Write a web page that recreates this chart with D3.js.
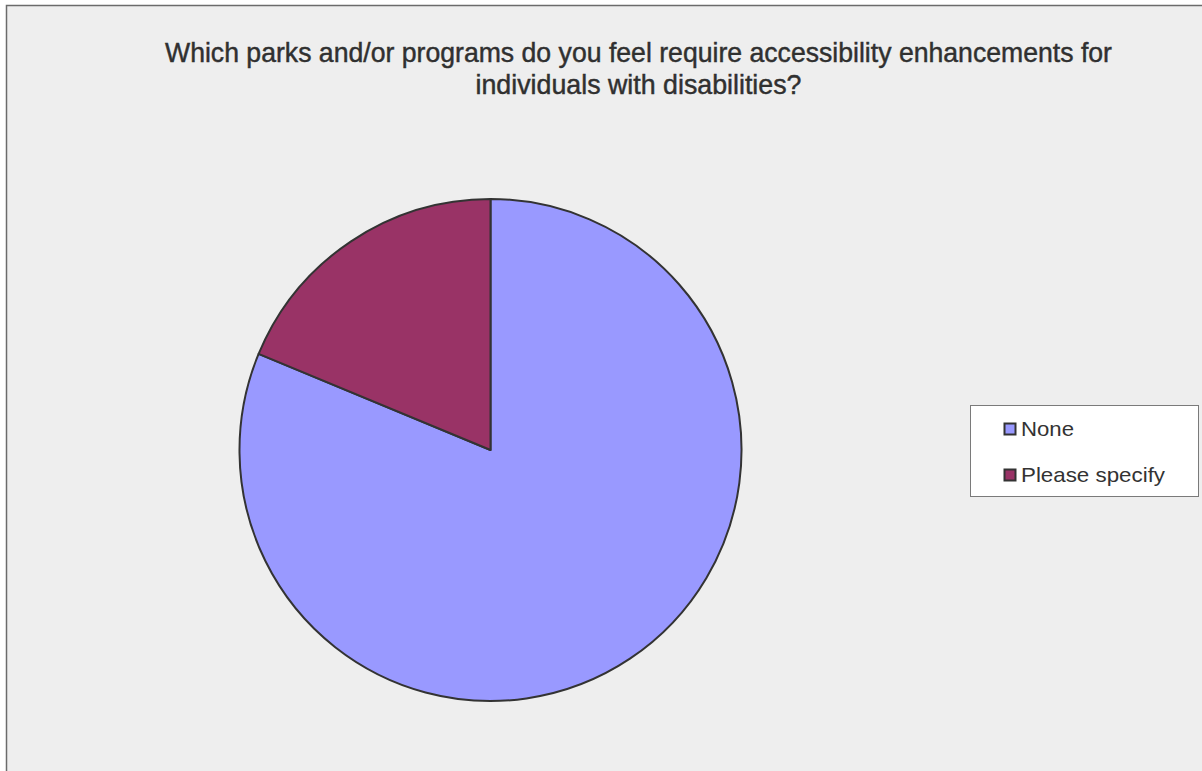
<!DOCTYPE html>
<html>
<head>
<meta charset="utf-8">
<script src="https://cdn.jsdelivr.net/npm/d3@7"></script>
<style>
  html, body { margin: 0; padding: 0; background: #ffffff; }
  svg { display: block; }
</style>
</head>
<body>
<script>
const categories = ["None", "Please specify"];
const values = [81.25, 18.75];
const colors = ["#9999FF", "#993366"];
const titleLines = [
  "Which parks and/or programs do you feel require accessibility enhancements for",
  "individuals with disabilities?"
];

const W = 1202, H = 771;
const svg = d3.select("body").append("svg").attr("width", W).attr("height", H);

// chart area frame
svg.append("rect")
  .attr("x", 6.5).attr("y", 5.5)
  .attr("width", W + 10).attr("height", H + 10)
  .attr("fill", "#EEEEEE")
  .attr("stroke", "#6b6b6b").attr("stroke-width", 1.5);

// title
const titleWidths = [947, 326];
const title = svg.append("g");
titleLines.forEach((t, i) => {
  title.append("text")
    .attr("x", 638.5).attr("y", 61.5 + i * 32)
    .attr("text-anchor", "middle")
    .attr("font-family", "Liberation Sans, Arial, sans-serif")
    .attr("font-size", 27.5)
    .attr("fill", "#303030")
    .attr("stroke", "#303030").attr("stroke-width", 0.45)
    .attr("textLength", titleWidths[i])
    .attr("lengthAdjust", "spacingAndGlyphs")
    .text(t);
});

// pie
const cx = 490.5, cy = 450, r = 251;
const pie = d3.pie().sort(null).value(d => d)(values);
const arc = d3.arc().innerRadius(0).outerRadius(r);
const color = d3.scaleOrdinal().domain(categories).range(colors);
svg.append("g").attr("transform", `translate(${cx},${cy})`)
  .selectAll("path").data(pie).join("path")
  .attr("d", arc)
  .attr("fill", (d, i) => color(categories[i]))
  .attr("stroke", "#333333")
  .attr("stroke-width", 2)
  .attr("stroke-linejoin", "round");

// legend
const lg = svg.append("g");
lg.append("rect")
  .attr("x", 970.5).attr("y", 405.5)
  .attr("width", 228).attr("height", 91)
  .attr("fill", "#ffffff").attr("stroke", "#7a7a7a").attr("stroke-width", 1);
const rowY = d3.scalePoint().domain(categories).range([429, 475]);
const legendWidths = [53, 144];
categories.forEach((c, i) => {
  const y = rowY(c);
  lg.append("rect")
    .attr("x", 1004.5).attr("y", y - 5.5)
    .attr("width", 11).attr("height", 11)
    .attr("fill", color(c)).attr("stroke", "#333333").attr("stroke-width", 2);
  lg.append("text")
    .attr("x", 1021).attr("y", y + 7)
    .attr("font-family", "Liberation Sans, Arial, sans-serif")
    .attr("font-size", 21)
    .attr("fill", "#333333")
    .attr("textLength", legendWidths[i])
    .attr("lengthAdjust", "spacingAndGlyphs")
    .text(c);
});
</script>
</body>
</html>
